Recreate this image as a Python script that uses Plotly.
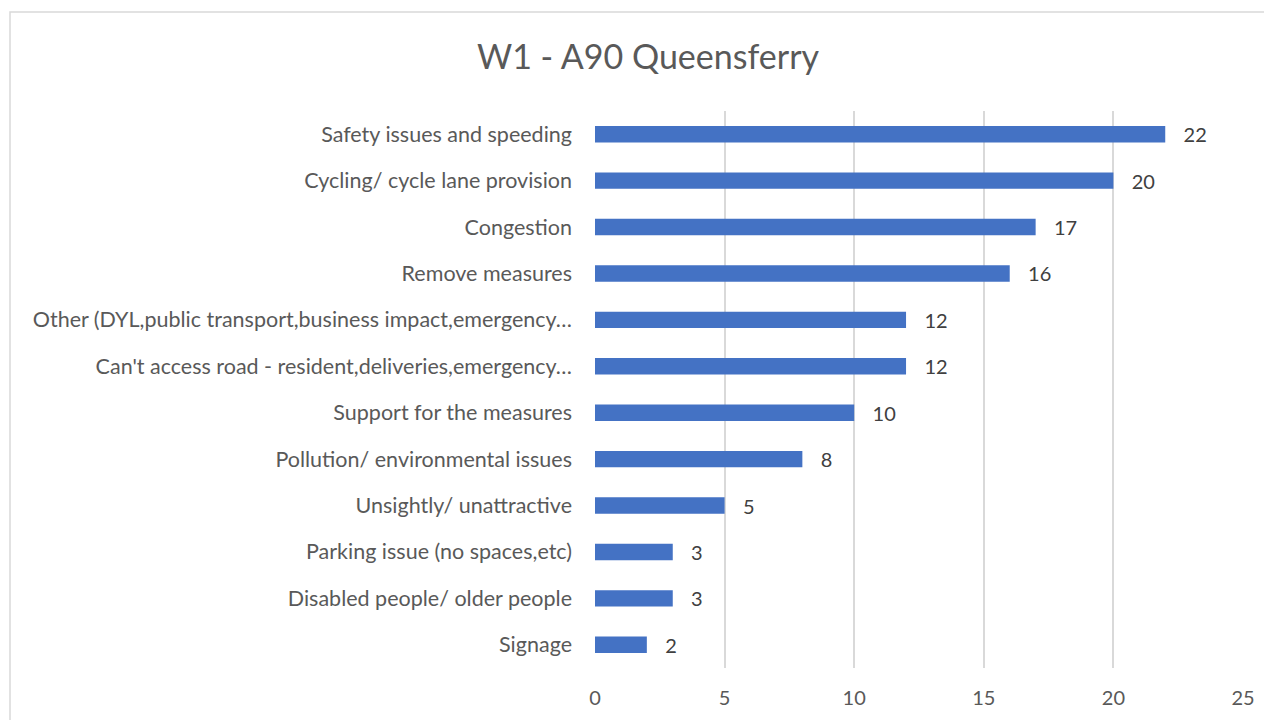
import plotly.graph_objects as go

categories = [
    "Safety issues and speeding",
    "Cycling/ cycle lane provision",
    "Congestion",
    "Remove measures",
    "Other (DYL,public transport,business impact,emergency…",
    "Can't access road - resident,deliveries,emergency…",
    "Support for the measures",
    "Pollution/ environmental issues",
    "Unsightly/ unattractive",
    "Parking issue (no spaces,etc)",
    "Disabled people/ older people",
    "Signage",
]
values = [22, 20, 17, 16, 12, 12, 10, 8, 5, 3, 3, 2]
x_ticks = [0, 5, 10, 15, 20, 25]

font_family = "Lato, Open Sans, sans-serif"
text_color = "#595959"

# the page adds an 8px body margin, so the figure is drawn 8px smaller
W, H = 1264, 712
L, R, T, B = 587, 29, 103, 52
pw, ph = W - L - R, H - T - B

fig = go.Figure(
    go.Bar(
        y=categories,
        x=values,
        orientation="h",
        marker=dict(color="#4472C4", line=dict(width=0)),
        text=values,
        texttemplate="   %{x}",
        textposition="outside",
        constraintext="none",
        cliponaxis=False,
        textfont=dict(family=font_family, size=20, color="#404040"),
        hoverinfo="x+y",
    )
)

fig.update_layout(
    width=W,
    height=H,
    margin=dict(l=L, r=R, t=T, b=B),
    paper_bgcolor="white",
    plot_bgcolor="white",
    bargap=0.645,
    showlegend=False,
    title=dict(
        text="W1 - A90 Queensferry",
        x=640 / W,
        xanchor="center",
        y=1 - 49 / H,
        yanchor="middle",
        font=dict(family=font_family, size=34, color=text_color),
    ),
    font=dict(family=font_family, color=text_color),
    xaxis=dict(
        range=[0, 25],
        tickvals=x_ticks,
        showgrid=True,
        gridcolor="#D9D9D9",
        gridwidth=1.5,
        zeroline=False,
        showline=False,
        ticks="",
        ticklabelstandoff=16,
        tickfont=dict(family=font_family, size=20, color=text_color),
        fixedrange=True,
    ),
    yaxis=dict(
        autorange="reversed",
        showgrid=False,
        zeroline=False,
        showline=False,
        ticks="",
        ticklabelstandoff=22,
        tickfont=dict(family=font_family, size=21.5, color=text_color),
        fixedrange=True,
    ),
    shapes=[
        dict(
            type="rect",
            xref="paper",
            yref="paper",
            x0=(2 - L) / pw,
            x1=(W + 20 - L) / pw,
            y0=-(B + 20) / ph,
            y1=(H - B - 4) / ph,
            line=dict(color="#D9D9D9", width=1.5),
            fillcolor="rgba(0,0,0,0)",
            layer="below",
        )
    ],
)

fig.write_html("out.html")
